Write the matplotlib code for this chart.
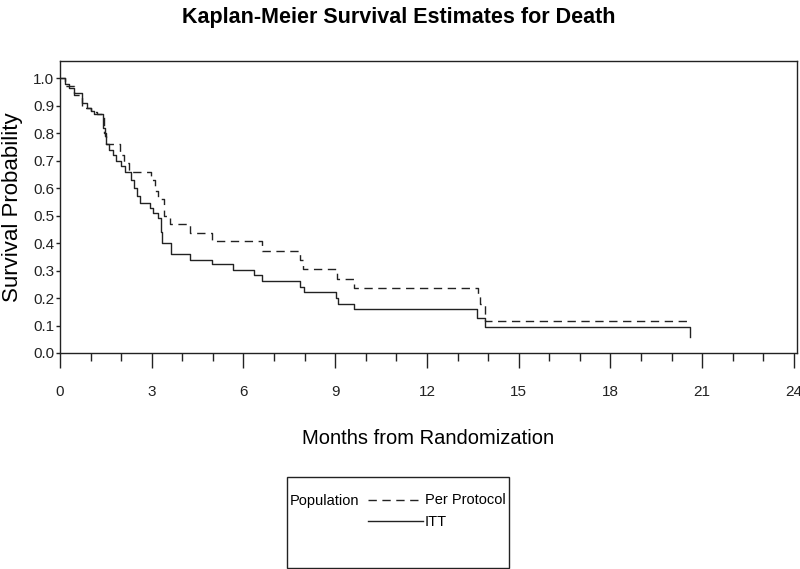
import matplotlib
matplotlib.use("Agg")
import matplotlib.pyplot as plt
from matplotlib.lines import Line2D
from matplotlib.patches import Rectangle
from matplotlib.ticker import MultipleLocator, FormatStrFormatter
from matplotlib import font_manager

# --- data (months, survival probability) ---
itt_time = [0, 0.17, 0.28, 0.45, 0.72, 0.87, 1.0, 1.1, 1.42, 1.47, 1.52, 1.6,
            1.72, 1.84, 1.98, 2.12, 2.32, 2.42, 2.52, 2.62, 2.94, 3.04, 3.2,
            3.3, 3.35, 3.62, 4.25, 4.97, 5.65, 6.34, 6.6, 7.84, 7.97, 9.02,
            9.08, 9.6, 13.65, 13.9, 20.6]
itt_surv = [1.0, 0.98, 0.965, 0.945, 0.91, 0.89, 0.88, 0.87, 0.82, 0.79, 0.76,
            0.74, 0.72, 0.70, 0.68, 0.66, 0.63, 0.60, 0.57, 0.545, 0.527, 0.51,
            0.49, 0.44, 0.40, 0.36, 0.338, 0.323, 0.302, 0.284, 0.262, 0.24,
            0.222, 0.20, 0.18, 0.16, 0.127, 0.095, 0.058]

pp_time = [0, 0.17, 0.45, 0.72, 1.0, 1.2, 1.45, 1.52, 1.95, 2.1, 2.25, 2.97,
           3.12, 3.22, 3.4, 3.6, 4.25, 4.97, 6.6, 7.84, 7.95, 9.05, 9.6,
           13.66, 13.72, 13.9, 20.6]
pp_surv = [1.0, 0.97, 0.94, 0.89, 0.875, 0.87, 0.80, 0.76, 0.72, 0.69, 0.66,
           0.63, 0.59, 0.56, 0.50, 0.47, 0.437, 0.407, 0.371, 0.34, 0.305,
           0.27, 0.237, 0.21, 0.18, 0.116, 0.108]

x_major = 3
y_major = 0.1

# --- fonts (no narrow face installed, so sizes are trimmed to match widths) ---
names = {f.name for f in font_manager.fontManager.ttflist}
narrow = "Liberation Sans Narrow" if "Liberation Sans Narrow" in names else "Liberation Sans"
plt.rcParams["font.family"] = [narrow, "DejaVu Sans"]

ink = "#222222"

fig = plt.figure(figsize=(8, 5.69), dpi=100)
ax = fig.add_axes([60 / 800, 1 - 353 / 569, 737 / 800, 292 / 569])

ax.step(pp_time, pp_surv, where="post", color=ink, lw=1.0, dashes=(6, 4))
ax.step(itt_time, itt_surv, where="post", color=ink, lw=1.0)

ax.set_xlim(0, 24.1)
ax.set_ylim(0, 1.062)
ax.xaxis.set_major_locator(MultipleLocator(x_major))
ax.xaxis.set_minor_locator(MultipleLocator(1))
ax.set_yticks([i * y_major for i in range(11)])
ax.yaxis.set_major_formatter(FormatStrFormatter("%.1f"))

ax.tick_params(axis="x", which="major", length=11, width=1, pad=12,
               labelsize=11, colors=ink)
ax.tick_params(axis="x", which="minor", length=6, width=1, colors=ink)
ax.tick_params(axis="y", which="major", length=3, width=1, pad=1,
               labelsize=11, colors=ink)
for s in ax.spines.values():
    s.set_color(ink)
    s.set_linewidth(1.0)

# titles
fig.text(0.499, 1 - 17 / 569, "Kaplan-Meier Survival Estimates for Death",
         ha="center", va="center", fontsize=15.5, fontweight="bold", color="black")
fig.text(0.535, 1 - 439 / 569, "Months from Randomization",
         ha="center", va="center", fontsize=14.5, color="black")
fig.text(0.002, 1 - 207 / 569, "Survival Probability", rotation=90,
         ha="left", va="center", fontsize=16, color="black")

# legend box
fig.patches.append(Rectangle((287 / 800, 1 / 569), 222 / 800, 91 / 569,
                             transform=fig.transFigure, fill=False,
                             edgecolor=ink, lw=1.0))
fig.text(290 / 800, 1 - 501 / 569, "Population", ha="left", va="center",
         fontsize=10.5, color="black")
fig.lines.append(Line2D([368 / 800, 423 / 800], [1 - 500 / 569] * 2,
                        transform=fig.transFigure, color=ink, lw=1.0,
                        dashes=(6, 4)))
fig.lines.append(Line2D([368 / 800, 423 / 800], [1 - 521 / 569] * 2,
                        transform=fig.transFigure, color=ink, lw=1.0))
fig.text(425 / 800, 1 - 500 / 569, "Per Protocol", ha="left", va="center",
         fontsize=10.5, color="black")
fig.text(425 / 800, 1 - 522 / 569, "ITT", ha="left", va="center",
         fontsize=10.5, color="black")

fig.savefig("out.png", dpi=100)
